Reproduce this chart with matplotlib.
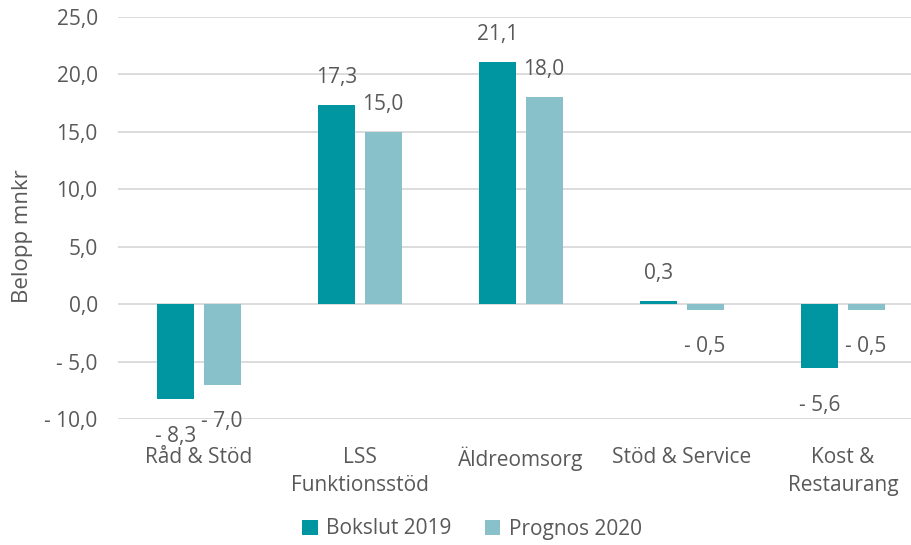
import matplotlib.pyplot as plt
import numpy as np

categories = ["Råd & Stöd", "LSS\nFunktionsstöd", "Äldreomsorg", "Stöd & Service", "Kost &\nRestaurang"]
bokslut_2019 = [-8.3, 17.3, 21.1, 0.3, -5.6]
prognos_2020 = [-7.0, 15.0, 18.0, -0.5, -0.5]
series_names = ["Bokslut 2019", "Prognos 2020"]

teal = "#0096A1"
light = "#88C1CA"
txt = "#595959"

plt.rcParams['font.family'] = ['Open Sans', 'DejaVu Sans']

def fmt(v):
    s = f"{abs(v):.1f}".replace(".", ",")
    return "- " + s if v < 0 else s

fig = plt.figure(figsize=(9.12, 5.45), dpi=100)
ax = fig.add_axes([118.5 / 912, 126 / 545, 805 / 912, 402 / 545])

x = np.arange(len(categories))
w = 0.23
off = 0.143
b1 = ax.bar(x - off, bokslut_2019, w, color=teal, label=series_names[0], zorder=3)
b2 = ax.bar(x + off, prognos_2020, w, color=light, label=series_names[1], zorder=3)

for bars, vals in ((b1, bokslut_2019), (b2, prognos_2020)):
    for r, v in zip(bars, vals):
        cx = r.get_x() + r.get_width() / 2
        dy = 2.4 if v >= 0 else -3.2
        ax.text(cx, v + dy, fmt(v), ha='center', va='center', fontsize=15, color=txt)

ax.set_ylim(-10, 25)
ax.set_xlim(-0.5, 4.5)
ax.set_yticks(np.arange(-10, 26, 5))
ax.set_yticklabels([fmt(t) for t in np.arange(-10, 26, 5)])
ax.set_xticks(x)
ax.set_xticklabels(categories, linespacing=1.45)
ax.tick_params(axis='both', length=0, labelsize=15, colors=txt)
ax.tick_params(axis='x', pad=20)
ax.tick_params(axis='y', pad=15)
ax.grid(axis='y', color='#D9D9D9', linewidth=1.3, zorder=0)
for s in ax.spines.values():
    s.set_visible(False)
ax.set_ylabel("Belopp mnkr", fontsize=16, color=txt)
ax.yaxis.set_label_coords(-0.106, 0.455)

fig.legend(loc='center', bbox_to_anchor=(472 / 912, 1 - 529 / 545), ncol=2, frameon=False,
           fontsize=15, labelcolor=txt, handlelength=0.75, handleheight=0.75, columnspacing=1.6,
           handletextpad=0.4)

fig.savefig("out.png", dpi=100)
